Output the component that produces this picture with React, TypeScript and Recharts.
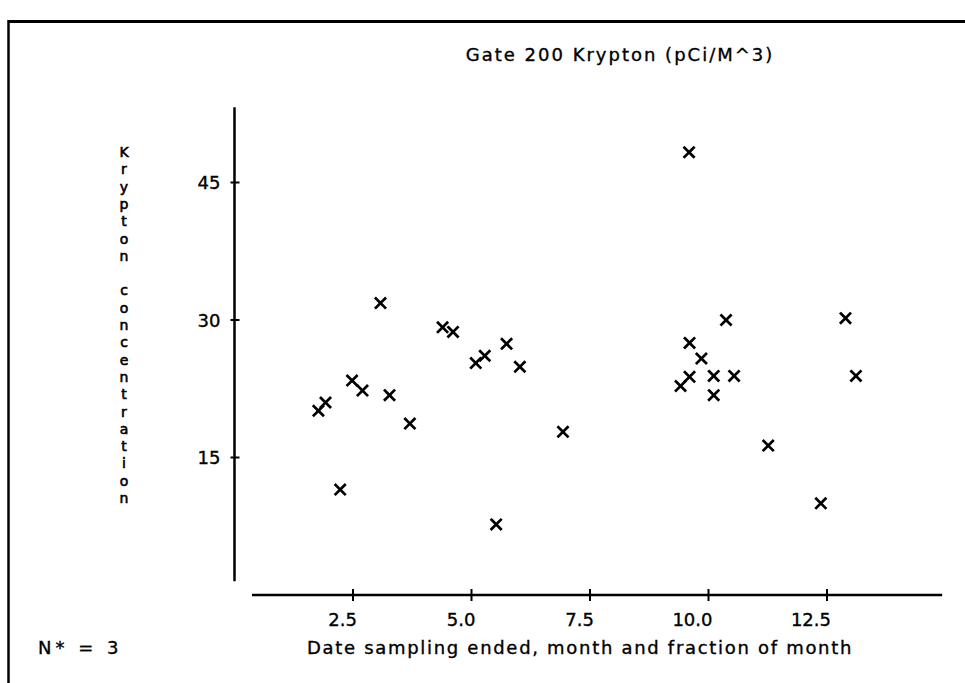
import { ScatterChart, Scatter, XAxis, YAxis, ReferenceLine } from "recharts";

// date sampling ended (month + fraction) and krypton concentration, pCi/m^3
const dateEnded = [
  1.77, 1.92, 2.23, 2.48, 2.7, 3.08, 3.27, 3.7, 4.39, 4.61, 5.09, 5.28, 5.52, 5.74, 6.02,
  6.93, 9.41, 9.6, 9.6, 9.59, 9.85, 10.11, 10.11, 10.37, 10.54, 11.26, 12.37, 12.89, 13.11,
];
const krypton = [
  20.1, 21.0, 11.5, 23.4, 22.3, 31.85, 21.8, 18.7, 29.2, 28.7, 25.3, 26.1, 7.7, 27.4, 24.9,
  17.8, 22.8, 23.8, 27.5, 48.3, 25.8, 23.9, 21.8, 30.0, 23.9, 16.3, 10.0, 30.2, 23.9,
];

const xTicks = [2.5, 5, 7.5, 10, 12.5];
const xTickLabels = ["2.5", "5.0", "7.5", "10.0", "12.5"];
const yTicks = [15, 30, 45];

const title = "Gate 200 Krypton (pCi/M^3)";
const yLabel = "Krypton concentration";
const xLabel = "Date sampling ended, month and fraction of month";
const note = "N* = 3";

// axis lines don't run the whole plot, like the old plotter output
const xAxisSpan = [0.37, 14.93];
const yAxisSpan = [1.5, 53.2];

const data = dateEnded.map((x, i) => ({ x, y: krypton[i] }));

const FONT = "'DejaVu Sans', sans-serif";
const FS = 18;
const W = 965;
const H = 683;

// plotter text is a bit heavier than plain DejaVu
const ink = { fill: "#000", stroke: "#000", strokeWidth: 0.35 };

function XTick({ x, y, payload }: any) {
  const i = xTicks.indexOf(payload.value);
  return (
    <g>
      <line x1={x} x2={x} y1={y - 6} y2={y + 6} stroke="#000" strokeWidth={2} />
      <text x={x + 4} y={y + 31} textAnchor="end" fontSize={FS} fontFamily={FONT} {...ink}>
        {xTickLabels[i]}
      </text>
    </g>
  );
}

function YTick({ x, y, payload }: any) {
  return (
    <g>
      <line x1={x - 4} x2={x + 5} y1={y} y2={y} stroke="#000" strokeWidth={2} />
      <text x={x - 14} y={y + 6.5} textAnchor="end" fontSize={FS} fontFamily={FONT} {...ink}>
        {payload.value}
      </text>
    </g>
  );
}

function Cross({ cx, cy }: any) {
  const r = 4.6;
  return (
    <g stroke="#000" strokeWidth={2.7} strokeLinecap="square">
      <line x1={cx - r} y1={cy - r} x2={cx + r} y2={cy + r} />
      <line x1={cx - r} y1={cy + r} x2={cx + r} y2={cy - r} />
    </g>
  );
}

export default function App() {
  return (
    <div style={{ position: "relative", width: W, height: H, background: "#fff" }}>
      <style>{"body{margin:0}"}</style>
      <ScatterChart
        width={W}
        height={H}
        margin={{ top: 100, right: 19.5, bottom: 58, left: 174.5 }}
      >
        <XAxis
          type="number"
          dataKey="x"
          domain={[0, 15]}
          ticks={xTicks}
          height={30}
          axisLine={false}
          tickLine={false}
          tickSize={0}
          tickMargin={0}
          tick={<XTick />}
          allowDataOverflow
        />
        <YAxis
          type="number"
          dataKey="y"
          domain={[0, 54]}
          ticks={yTicks}
          width={60}
          axisLine={false}
          tickLine={false}
          tickSize={0}
          tickMargin={0}
          tick={<YTick />}
          allowDataOverflow
        />
        <ReferenceLine
          segment={[{ x: xAxisSpan[0], y: 0 }, { x: xAxisSpan[1], y: 0 }]}
          stroke="#000"
          strokeWidth={2.5}
          ifOverflow="visible"
        />
        <ReferenceLine
          segment={[{ x: 0, y: yAxisSpan[0] }, { x: 0, y: yAxisSpan[1] }]}
          stroke="#000"
          strokeWidth={2.5}
          ifOverflow="visible"
        />
        <Scatter data={data} shape={<Cross />} isAnimationActive={false} />
      </ScatterChart>

      <svg
        width={W}
        height={H}
        style={{ position: "absolute", left: 0, top: 0, pointerEvents: "none" }}
        fontFamily={FONT}
        fontSize={FS}
      >
        <line x1={8} y1={21.5} x2={W} y2={21.5} stroke="#000" strokeWidth={3} />
        <line x1={8.5} y1={20} x2={8.5} y2={H} stroke="#000" strokeWidth={2.5} />
        <text x={620} y={61} textAnchor="middle" letterSpacing={2} {...ink}>
          {title}
        </text>
        {/* vertical axis title, one upright letter per line */}
        {yLabel.split("").map((ch, i) =>
          ch === " " ? null : (
            <text
              key={i}
              x={124}
              y={157 + i * 17.3}
              textAnchor="middle"
              fontSize={14}
              fill="#000"
              stroke="#000"
              strokeWidth={0.6}
            >
              {ch}
            </text>
          )
        )}
        <text x={580} y={654} textAnchor="middle" letterSpacing={1.7} {...ink}>
          {xLabel}
        </text>
        <text x={38} y={654} letterSpacing={4} {...ink}>
          {note}
        </text>
      </svg>
    </div>
  );
}
